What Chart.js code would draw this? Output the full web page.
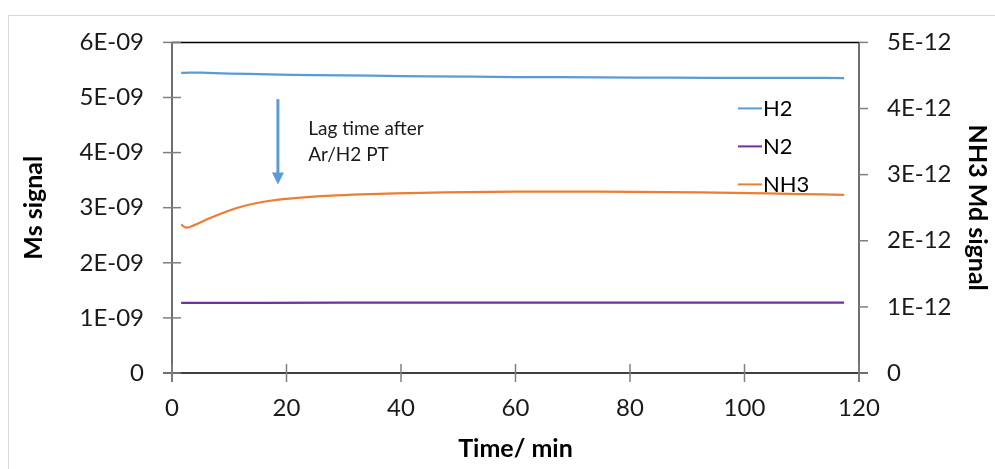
<!DOCTYPE html>
<html>
<head>
<meta charset="utf-8">
<script src="https://cdn.jsdelivr.net/npm/chart.js@4"></script>
<style>
  html, body { margin: 0; padding: 0; background: #fff; }
  #wrap { position: relative; width: 995px; height: 469px; overflow: hidden; }
  #frame { position: absolute; left: 8px; top: 15px; width: 1100px; height: 600px;
           border-left: 1px solid #d9d9d9; border-top: 1px solid #d9d9d9; pointer-events: none; }
  canvas { position: absolute; left: 0; top: 0; }
</style>
</head>
<body>
<div id="wrap">
  <div id="frame"></div>
  <canvas id="myChart" width="995" height="469"></canvas>
</div>
<script>
// time axis ticks (min)
var xTicks = [0, 20, 40, 60, 80, 100, 120];

// H2, left axis
var h2Time   = [1.6, 3, 5, 10, 17, 25, 35, 45, 60, 75, 87, 100, 110, 117.4];
var h2Signal = [5.445e-9, 5.452e-9, 5.45e-9, 5.435e-9, 5.42e-9, 5.405e-9, 5.395e-9, 5.385e-9,
                5.372e-9, 5.365e-9, 5.36e-9, 5.357e-9, 5.355e-9, 5.353e-9];

// N2, left axis
var n2Time   = [1.6, 30, 60, 90, 117.4];
var n2Signal = [1.272e-9, 1.275e-9, 1.277e-9, 1.277e-9, 1.276e-9];

// NH3, right axis
var nh3Time   = [1.6, 2.5, 4, 5.5, 8.4, 11.3, 14.2, 17.1, 20, 23, 28.8, 34.6, 43.4, 51.5, 60, 69, 80.6, 92.3, 98, 109.8, 117.4];
var nh3Signal = [2.245e-12, 2.198e-12, 2.24e-12, 2.3e-12, 2.405e-12, 2.495e-12, 2.56e-12, 2.605e-12,
                 2.635e-12, 2.657e-12, 2.686e-12, 2.705e-12, 2.724e-12, 2.735e-12, 2.742e-12, 2.744e-12,
                 2.739e-12, 2.73e-12, 2.723e-12, 2.707e-12, 2.695e-12];

function pts(xs, ys) {
  return xs.map(function (x, i) { return {x: x, y: ys[i]}; });
}

// 6E-09 style labels
function sci(v) {
  if (Math.abs(v) < 1e-30) return '0';
  var e = Math.floor(Math.log10(Math.abs(v)) + 1e-6);
  var m = Math.round(v / Math.pow(10, e));
  var s = e < 0 ? '-' : '+';
  var a = Math.abs(e);
  return m + 'E' + s + (a < 10 ? '0' + a : a);
}

var FONT = 'Lato';

var axesPlugin = {
  id: 'axesPlugin',
  afterDatasetsDraw: function (chart) {
    var ctx = chart.ctx, a = chart.chartArea;
    var x = chart.scales.x, y = chart.scales.y, y1 = chart.scales.y1;
    ctx.save();
    // frame lines
    ctx.lineCap = 'butt';
    ctx.strokeStyle = '#000'; ctx.lineWidth = 1.5;
    ctx.beginPath(); ctx.moveTo(a.left, a.top); ctx.lineTo(a.right, a.top); ctx.stroke();
    ctx.beginPath(); ctx.moveTo(a.left - 9, a.bottom); ctx.lineTo(a.right + 9, a.bottom); ctx.stroke();
    ctx.strokeStyle = '#6f6f6f'; ctx.lineWidth = 2;
    ctx.beginPath(); ctx.moveTo(a.left, a.top); ctx.lineTo(a.left, a.bottom + 9); ctx.stroke();
    ctx.strokeStyle = '#404040'; ctx.lineWidth = 1.5;
    ctx.beginPath(); ctx.moveTo(a.right, a.top); ctx.lineTo(a.right, a.bottom + 9); ctx.stroke();
    // tick marks
    ctx.strokeStyle = '#7f7f7f'; ctx.lineWidth = 1.5;
    x.ticks.forEach(function (t) {
      var px = x.getPixelForValue(t.value);
      ctx.beginPath(); ctx.moveTo(px, a.bottom - 9); ctx.lineTo(px, a.bottom + 9); ctx.stroke();
    });
    y.ticks.forEach(function (t) {
      var py = y.getPixelForValue(t.value);
      ctx.beginPath(); ctx.moveTo(a.left - 9, py); ctx.lineTo(a.left + 9, py); ctx.stroke();
    });
    y1.ticks.forEach(function (t) {
      var py = y1.getPixelForValue(t.value);
      ctx.beginPath(); ctx.moveTo(a.right, py); ctx.lineTo(a.right + 9, py); ctx.stroke();
    });

    // lag time arrow
    var ax = x.getPixelForValue(18.5);
    var aTop = y.getPixelForValue(4.97e-9);
    var aTip = y.getPixelForValue(3.42e-9);
    ctx.strokeStyle = '#5b9bd5'; ctx.fillStyle = '#5b9bd5'; ctx.lineWidth = 3;
    ctx.beginPath(); ctx.moveTo(ax, aTop); ctx.lineTo(ax, aTip - 10); ctx.stroke();
    ctx.beginPath(); ctx.moveTo(ax - 6, aTip - 12); ctx.lineTo(ax + 6, aTip - 12); ctx.lineTo(ax, aTip); ctx.closePath(); ctx.fill();

    ctx.fillStyle = '#1a1a1a';
    ctx.font = '19px ' + FONT;
    ctx.textAlign = 'left'; ctx.textBaseline = 'middle';
    var tx = x.getPixelForValue(23.8);
    ctx.fillText('Lag time after', tx, y.getPixelForValue(4.43e-9));
    ctx.fillText('Ar/H2 PT', tx, y.getPixelForValue(3.96e-9));

    // legend
    var lx = a.right - 121, ly = a.top + 66;
    ctx.font = '22px ' + FONT;
    chart.data.datasets.forEach(function (ds, i) {
      var yy = ly + i * 38;
      ctx.strokeStyle = ds.borderColor; ctx.lineWidth = 2;
      ctx.beginPath(); ctx.moveTo(lx, yy); ctx.lineTo(lx + 24, yy); ctx.stroke();
      ctx.fillStyle = '#000';
      ctx.fillText(ds.label, lx + 25, yy + 1);
    });
    ctx.restore();
  }
};

var ctx = document.getElementById('myChart').getContext('2d');
var config = {
  type: 'line',
  data: {
    datasets: [{
      label: 'H2',
      data: pts(h2Time, h2Signal),
      borderColor: '#5b9bd5',
      yAxisID: 'y'
    }, {
      label: 'N2',
      data: pts(n2Time, n2Signal),
      borderColor: '#7030a0',
      yAxisID: 'y'
    }, {
      label: 'NH3',
      data: pts(nh3Time, nh3Signal),
      borderColor: '#ed7d31',
      yAxisID: 'y1'
    }]
  },
  options: {
    responsive: false,
    animation: false,
    devicePixelRatio: 1,
    layout: { padding: { top: 39, left: 0, right: 0, bottom: 0 } },
    elements: {
      point: { radius: 0 },
      line: { borderWidth: 2.25, tension: 0.4, fill: false }
    },
    plugins: { legend: { display: false }, tooltip: { enabled: false } },
    scales: {
      x: {
        type: 'linear', position: 'bottom', min: 0, max: 120,
        afterFit: function (s) { s.height = 96; },
        afterBuildTicks: function (s) { s.ticks = xTicks.map(function (v) { return {value: v}; }); },
        grid: { display: false, drawTicks: false },
        border: { display: false },
        ticks: { padding: 21, color: '#1a1a1a', font: { family: FONT, size: 24 }, maxRotation: 0 },
        title: { display: true, text: 'Time/ min', color: '#000', padding: { top: 0, bottom: 5 },
                 font: { family: FONT, size: 25, weight: 'bold' } }
      },
      y: {
        type: 'linear', position: 'left', min: 0, max: 6e-9,
        afterFit: function (s) { s.width = 172; },
        grid: { display: false, drawTicks: false },
        border: { display: false },
        ticks: { stepSize: 1e-9, padding: 28, color: '#1a1a1a', font: { family: FONT, size: 24 },
                 callback: function (v) { return sci(v); } },
        title: { display: true, text: 'Ms signal', color: '#000', padding: { top: 19, bottom: 0 },
                 font: { family: FONT, size: 25, weight: 'bold' } }
      },
      y1: {
        type: 'linear', position: 'right', min: 0, max: 5e-12,
        afterFit: function (s) { s.width = 136; },
        grid: { display: false, drawTicks: false },
        border: { display: false },
        ticks: { stepSize: 1e-12, padding: 28, color: '#1a1a1a', font: { family: FONT, size: 24 },
                 callback: function (v) { return sci(v); } },
        title: { display: true, text: 'NH3 Md signal', color: '#000', padding: { top: 3, bottom: 0 },
                 font: { family: FONT, size: 25, weight: 'bold' } }
      }
    }
  },
  plugins: [axesPlugin]
};

var myChart = new Chart(ctx, config);
</script>
</body>
</html>
